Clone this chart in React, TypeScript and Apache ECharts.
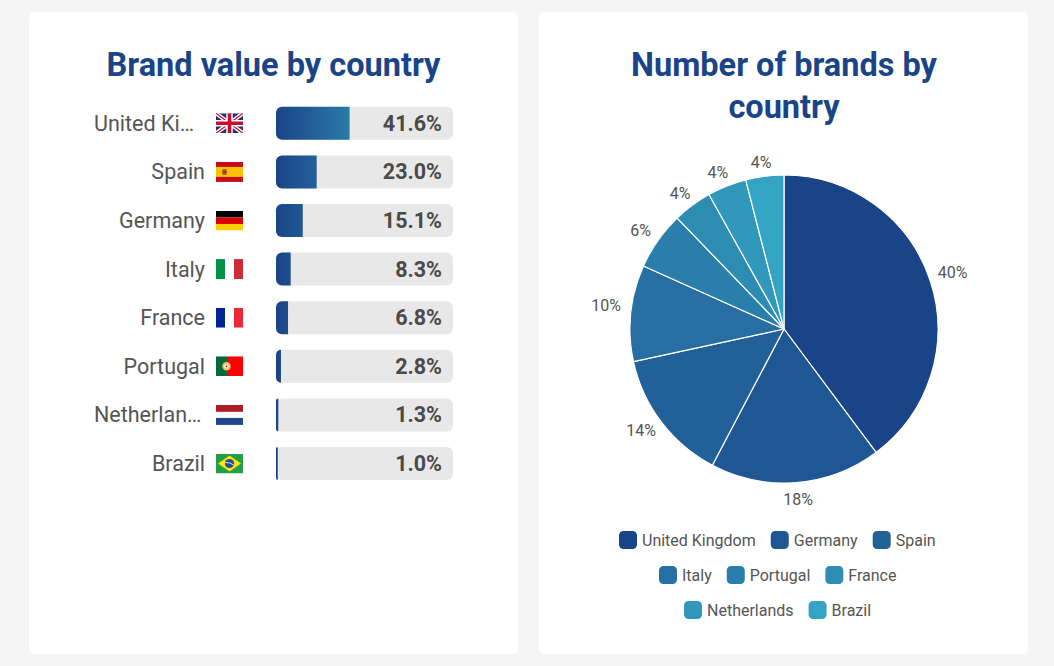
import React, { useEffect, useRef } from "react";
import * as echarts from "echarts";

const countries = ["United Kingdom", "Spain", "Germany", "Italy", "France", "Portugal", "Netherlands", "Brazil"];
const tickLabels = ["United Ki…", "Spain", "Germany", "Italy", "France", "Portugal", "Netherlan…", "Brazil"];
const brandValue = [41.6, 23.0, 15.1, 8.3, 6.8, 2.8, 1.3, 1.0];
const trackValues = [100, 100, 100, 100, 100, 100, 100, 100];

const pieNames = ["United Kingdom", "Germany", "Spain", "Italy", "Portugal", "France", "Netherlands", "Brazil"];
const pieValues = [39.8, 17.9, 13.9, 10.1, 6.1, 4.1, 4.1, 4.0];
const pieColors = ["#1a4488", "#1f5795", "#22609a", "#276fa3", "#2a7eab", "#2d8cb2", "#3098ba", "#33a4c3"];
const legendRows = [
  ["United Kingdom", "Germany", "Spain"],
  ["Italy", "Portugal", "France"],
  ["Netherlands", "Brazil"],
];

// Where the reference places each pie label around the pie (polar, from the pie's centre).
const pieLabelRadius = [178, 171.5, 175.5, 179.5, 174, 171, 170, 168.5];
const pieLabelAngle = [71.4, 175.3, 234.5, 277.4, 304.5, 322.6, 337.1, 352.2];

const W = 27;
const H = 20;
const wrap = (body: string) =>
  "data:image/svg+xml;charset=utf-8," +
  encodeURIComponent(`<svg xmlns="http://www.w3.org/2000/svg" width="${W}" height="${H}" viewBox="0 0 ${W} ${H}">${body}</svg>`);
const flags = [
  wrap(`<rect width="27" height="20" fill="#25306f"/><path d="M0 0L27 20M27 0L0 20" stroke="#fff" stroke-width="4"/><path d="M0 0L27 20M27 0L0 20" stroke="#c8102e" stroke-width="1.3"/><path d="M13.5 0V20M0 10H27" stroke="#fff" stroke-width="6.5"/><path d="M13.5 0V20M0 10H27" stroke="#c8102e" stroke-width="3.6"/>`),
  wrap(`<rect width="27" height="20" fill="#c60b1e"/><rect y="5" width="27" height="10" fill="#f8c300"/><rect x="6" y="7" width="5" height="6" rx="1.5" fill="#b5651d"/><circle cx="8.5" cy="10" r="1.3" fill="#a52a2a"/>`),
  wrap(`<rect width="27" height="7" fill="#000"/><rect y="7" width="27" height="7" fill="#dd0000"/><rect y="13.5" width="27" height="6.5" fill="#ffce00"/>`),
  wrap(`<rect width="9" height="20" fill="#009246"/><rect x="9" width="9" height="20" fill="#fff"/><rect x="18" width="9" height="20" fill="#ce2b37"/>`),
  wrap(`<rect width="9" height="20" fill="#002395"/><rect x="9" width="9" height="20" fill="#fff"/><rect x="18" width="9" height="20" fill="#ed2939"/>`),
  wrap(`<rect width="11" height="20" fill="#046a38"/><rect x="11" width="16" height="20" fill="#f00"/><circle cx="10.5" cy="10" r="4.2" fill="#e6c36a"/><circle cx="10.5" cy="10" r="2.2" fill="#fff"/><circle cx="10.5" cy="10" r="1.1" fill="#c33"/>`),
  wrap(`<rect width="27" height="7" fill="#ae1c28"/><rect y="7" width="27" height="6" fill="#fff"/><rect y="13" width="27" height="7" fill="#21468b"/>`),
  wrap(`<rect width="27" height="20" fill="#229e45"/><path d="M13.5 2L25 10L13.5 18L2 10Z" fill="#f8e509"/><circle cx="13.5" cy="10" r="4.6" fill="#2b49a3"/><path d="M9.2 9Q14 8.5 17.8 11.6" stroke="#fff" stroke-width="0.8" fill="none"/>`),
];

const FONT = "Roboto";
const TEXT = "#555555";
const NAVY = "#1a4488";
const gridLeft = 276;
const gridTop = 99;
const rowStep = 48.6;
const pieX = 784;
const pieY = 329;
const pieR = 154;

const labelPoint = (i: number) => {
  const a = (pieLabelAngle[i] * Math.PI) / 180;
  const r = pieLabelRadius[i];
  return { x: pieX + r * Math.sin(a), y: pieY - r * Math.cos(a) };
};

export default function App() {
  const ref = useRef<HTMLDivElement>(null);
  useEffect(() => {
    document.body.style.margin = "0";
    const chart = echarts.init(ref.current!, undefined, { renderer: "svg" });
    const barFill = new echarts.graphic.LinearGradient(
      276, 0, 350, 0,
      [
        { offset: 0, color: "#1a4488" },
        { offset: 1, color: "#2b7aa8" },
      ],
      true
    );
    chart.setOption({
      animation: false,
      backgroundColor: "#f5f5f5",
      graphic: [
        { type: "rect", z: -10, shape: { x: 29, y: 12, width: 489, height: 642, r: 5 }, style: { fill: "#fff" } },
        { type: "rect", z: -10, shape: { x: 539, y: 12, width: 489, height: 642, r: 5 }, style: { fill: "#fff" } },
        ...flags.map((image, i) => ({
          type: "image",
          z: 10,
          x: 216,
          y: gridTop + rowStep * (i + 0.5) - H / 2,
          style: { image, width: W, height: H },
        })),
      ],
      title: [
        {
          text: "Brand value by country",
          left: 273.5,
          top: 44,
          padding: 0,
          textAlign: "center",
          textStyle: { fontFamily: FONT, fontSize: 32.5, fontWeight: "bold", color: NAVY, lineHeight: 42 },
        },
        {
          text: "Number of brands by\ncountry",
          left: 784,
          top: 44,
          padding: 0,
          textAlign: "center",
          textStyle: { fontFamily: FONT, fontSize: 32.5, fontWeight: "bold", color: NAVY, lineHeight: 42 },
        },
      ],
      legend: legendRows.map((data, i) => ({
        data,
        show: true,
        orient: "horizontal",
        left: [619, 659, 684][i],
        top: 531 + i * 35,
        icon: "roundRect",
        itemWidth: 18,
        itemHeight: 18,
        itemGap: 15,
        padding: 0,
        selectedMode: false,
        itemStyle: { borderWidth: 0 },
        textStyle: { fontFamily: FONT, fontSize: 16, color: TEXT },
      })),
      grid: { left: gridLeft, top: gridTop, width: 177, height: rowStep * 8, containLabel: false },
      xAxis: { type: "value", min: 0, max: 100, show: false },
      yAxis: {
        type: "category",
        inverse: true,
        data: countries,
        axisLine: { show: false },
        axisTick: { show: false },
        splitLine: { show: false },
        axisLabel: {
          margin: 71,
          fontFamily: FONT,
          fontSize: 21.5,
          color: TEXT,
          formatter: (_: string, i: number) =>
            tickLabels[i].endsWith("…") ? `{cut|${tickLabels[i]}}` : tickLabels[i],
          rich: {
            cut: { fontFamily: FONT, fontSize: 21.5, color: TEXT, width: 111, align: "left" },
          },
        },
      },
      series: [
        {
          type: "bar",
          name: "track",
          data: trackValues,
          barWidth: 33,
          barGap: "-100%",
          silent: true,
          itemStyle: { color: "#e8e8e8", borderRadius: 6 },
          label: {
            show: true,
            position: "insideRight",
            distance: 11,
            fontFamily: FONT,
            fontSize: 21.5,
            fontWeight: "bold",
            color: "#4a4a4a",
            formatter: (p: any) => brandValue[p.dataIndex].toFixed(1) + "%",
          },
        },
        {
          type: "bar",
          name: "Brand value",
          data: brandValue,
          barWidth: 33,
          barGap: "-100%",
          itemStyle: { color: barFill, borderRadius: [6, 0, 0, 6] },
        },
        {
          type: "pie",
          name: "Number of brands",
          center: [pieX, pieY],
          radius: [0, pieR],
          startAngle: 90,
          clockwise: true,
          data: pieNames.map((name, i) => ({
            name,
            value: pieValues[i],
            itemStyle: { color: pieColors[i] },
          })),
          itemStyle: { borderColor: "#fff", borderWidth: 1.2 },
          label: {
            show: true,
            position: "outside",
            fontFamily: FONT,
            fontSize: 16,
            color: TEXT,
            formatter: (p: any) => Math.round(p.value) + "%",
          },
          labelLine: { show: false },
          labelLayout: (p: any) => ({ ...labelPoint(p.dataIndex), align: "center", verticalAlign: "middle" }),
        },
      ],
    });
    return () => chart.dispose();
  }, []);
  return <div ref={ref} style={{ width: 1054, height: 666 }} />;
}
